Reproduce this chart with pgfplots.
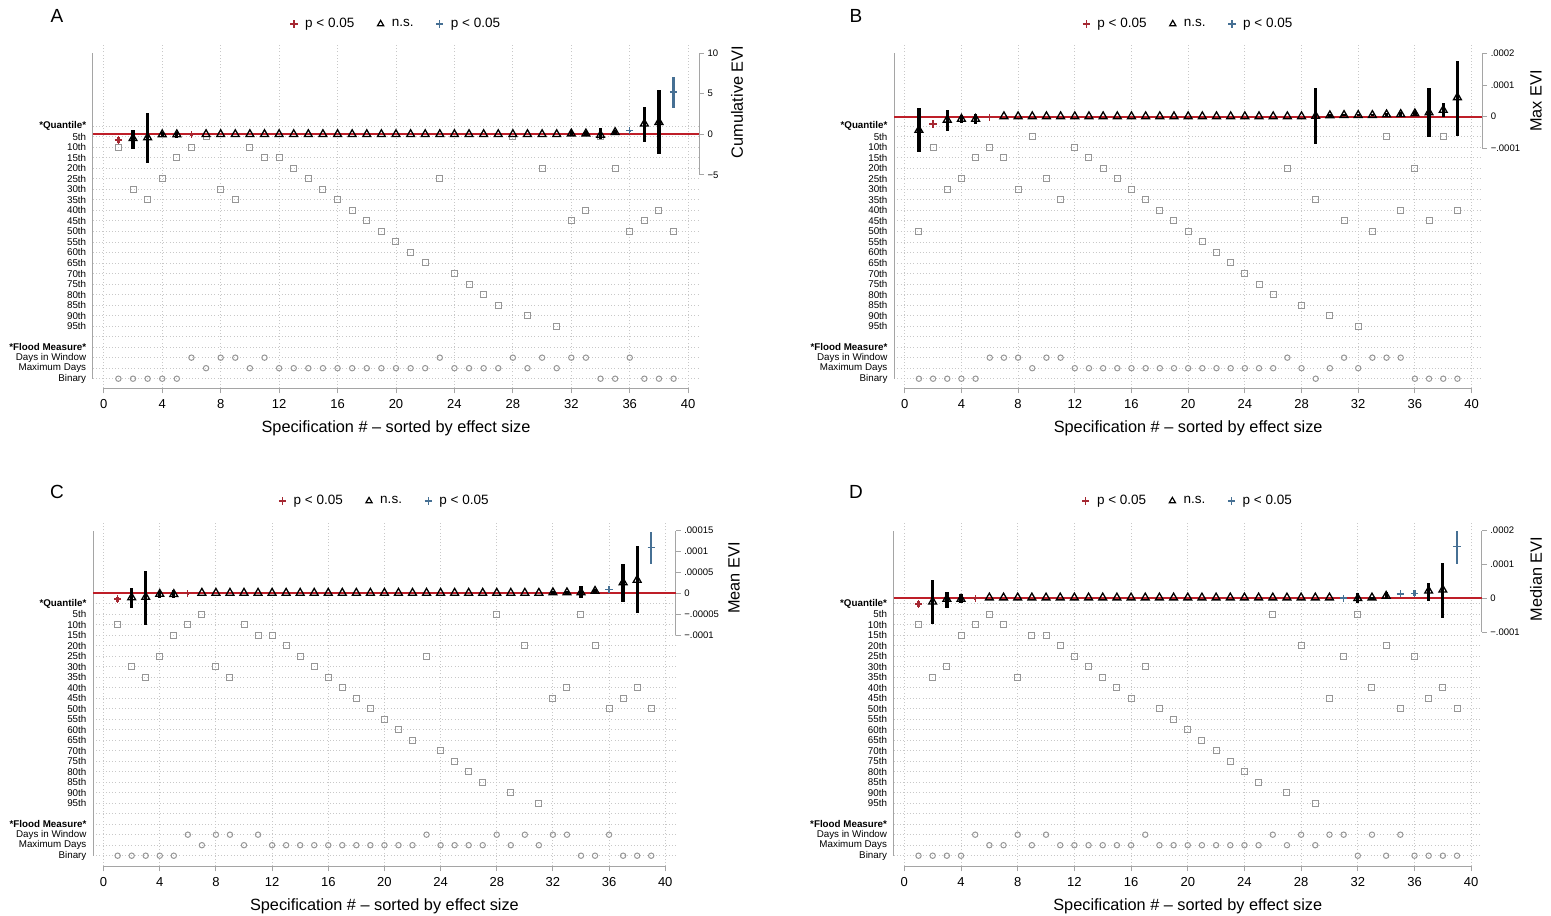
\documentclass[border=0pt]{standalone}
\usepackage{fontspec}
\setmainfont{Liberation Sans}
\usepackage{pgfplots}
\usepackage{pgfplotstable}
\pgfplotsset{compat=1.18}
\definecolor{sred}{RGB}{165,40,50}
\definecolor{zred}{RGB}{190,30,40}
\definecolor{sblue}{RGB}{70,112,148}
\definecolor{sqgray}{RGB}{150,150,150}
\definecolor{axgray}{RGB}{165,165,165}
\definecolor{gridgray}{RGB}{200,200,200}
\newcommand\rowf{\fontsize{9.8}{10}\selectfont}
\newcommand\tickf{\fontsize{13}{13}\selectfont}
\newcommand\rtickf{\fontsize{9.5}{10}\selectfont}
\newcommand\titf{\fontsize{16.3}{17}\selectfont}
\newcommand\legf{\fontsize{13.5}{14}\selectfont}
\newcommand\letf{\fontsize{19}{19}\selectfont}

\pgfplotsset{
  rowax/.style={scale only axis, xmin=-0.75, xmax=40.75, axis line style={draw=none},
    tick align=outside, major tick length=5pt,
    xtick={0,4,...,40}, xtick pos=bottom, ytick={0,...,24}, ytick pos=left,
    yticklabels={Binary, Maximum Days, Days in Window, \textbf{*Flood Measure*}, {}, 95th, 90th, 85th, 80th, 75th, 70th, 65th, 60th, 55th, 50th, 45th, 40th, 35th, 30th, 25th, 20th, 15th, 10th, 5th, \textbf{*Quantile*}},
    ytick style={draw=none}, xtick style={axgray, line width=0.9pt},
    grid=major, major grid style={gridgray, line width=0.9pt, dash pattern=on 0.9pt off 2.3pt},
    xticklabel style={font=\tickf, yshift=-3pt}, yticklabel style={font=\rowf, inner sep=1.5pt},
    xlabel={Specification \# -- sorted by effect size}, xlabel style={font=\titf, yshift=-5pt},
    /pgf/number format/assume math mode=true, clip=false},
  estax/.style={scale only axis, xmin=-0.75, xmax=40.75, axis line style={draw=none},
    tick align=outside, major tick length=5pt,
    xtick=\empty, ytick pos=right, yticklabel pos=right, ytick style={axgray, line width=0.9pt},
    yticklabel style={font=\rtickf}, scaled y ticks=false, clip=false,
    legend columns=3,
    legend style={draw=none, fill=none, at={(0.5,1)}, anchor=center, yshift=20pt, font=\legf,
      /tikz/every even column/.append style={column sep=20pt}}},
  sq/.style={forget plot, only marks, mark=square, mark size=3pt, sqgray, mark options={line width=1pt}},
  ci/.style={forget plot, only marks, mark=o, mark size=2.7pt, sqgray, mark options={line width=1pt}},
  nsplot/.style={forget plot, only marks, mark=triangle, mark size=4.5pt, black, mark options={line width=1.3pt, solid},
    error bars/y dir=both, error bars/y explicit, error bars/error mark=none,
    error bars/error bar style={line width=3.3pt, black, solid}},
  redplot/.style={forget plot, only marks, mark=+, mark size=3.6pt, sred, mark options={line width=1.3pt, solid},
    error bars/y dir=both, error bars/y explicit, error bars/error mark=none,
    error bars/error bar style={line width=2.4pt, sred, solid}},
  blueplot/.style={forget plot, only marks, mark=+, mark size=3.6pt, sblue, mark options={line width=1.3pt, solid},
    error bars/y dir=both, error bars/y explicit, error bars/error mark=none,
    error bars/error bar style={line width=2.4pt, sblue, solid}},
  table/cit/.style={x=s, y=e, y error plus expr=\thisrow{h}-\thisrow{e}, y error minus expr=\thisrow{e}-\thisrow{l}, row sep=\\},
}
\newcommand\stdlegend{%
  \addlegendimage{legend image code/.code={\path (-4pt,-1pt) (9pt,1pt); \draw[sred, mark=+, mark size=3.6pt, mark options={line width=1.2pt, sred}] plot coordinates {(0pt,0pt)};}}
  \addlegendentry{p < 0.05}
  \addlegendimage{legend image code/.code={\path (-4pt,-1pt) (9pt,1pt); \draw[black, mark=triangle, mark size=3.6pt, mark options={line width=1.2pt, black, fill=none}] plot coordinates {(0pt,0pt)};}}
  \addlegendentry{n.s.}
  \addlegendimage{legend image code/.code={\path (-4pt,-1pt) (9pt,1pt); \draw[sblue, mark=+, mark size=3.6pt, mark options={line width=1.2pt, sblue}] plot coordinates {(0pt,0pt)};}}
  \addlegendentry{p < 0.05}}

% indicator tables
\pgfplotstableread[row sep=\\]{s q\\ 1 10\\ 2 30\\ 3 35\\ 4 25\\ 5 15\\ 6 10\\ 7 5\\ 8 30\\ 9 35\\ 10 10\\ 11 15\\ 12 15\\ 13 20\\ 14 25\\ 15 30\\ 16 35\\ 17 40\\ 18 45\\ 19 50\\ 20 55\\ 21 60\\ 22 65\\ 23 25\\ 24 70\\ 25 75\\ 26 80\\ 27 85\\ 28 5\\ 29 90\\ 30 20\\ 31 95\\ 32 45\\ 33 40\\ 34 5\\ 35 20\\ 36 50\\ 37 45\\ 38 40\\ 39 50\\}\qAC
\pgfplotstableread[row sep=\\]{s f\\ 1 0\\ 2 0\\ 3 0\\ 4 0\\ 5 0\\ 6 2\\ 7 1\\ 8 2\\ 9 2\\ 10 1\\ 11 2\\ 12 1\\ 13 1\\ 14 1\\ 15 1\\ 16 1\\ 17 1\\ 18 1\\ 19 1\\ 20 1\\ 21 1\\ 22 1\\ 23 2\\ 24 1\\ 25 1\\ 26 1\\ 27 1\\ 28 2\\ 29 1\\ 30 2\\ 31 1\\ 32 2\\ 33 2\\ 34 0\\ 35 0\\ 36 2\\ 37 0\\ 38 0\\ 39 0\\}\fAC
\pgfplotstableread[row sep=\\]{s q\\ 1 50\\ 2 10\\ 3 30\\ 4 25\\ 5 15\\ 6 10\\ 7 15\\ 8 30\\ 9 5\\ 10 25\\ 11 35\\ 12 10\\ 13 15\\ 14 20\\ 15 25\\ 16 30\\ 17 35\\ 18 40\\ 19 45\\ 20 50\\ 21 55\\ 22 60\\ 23 65\\ 24 70\\ 25 75\\ 26 80\\ 27 20\\ 28 85\\ 29 35\\ 30 90\\ 31 45\\ 32 95\\ 33 50\\ 34 5\\ 35 40\\ 36 20\\ 37 45\\ 38 5\\ 39 40\\}\qB
\pgfplotstableread[row sep=\\]{s f\\ 1 0\\ 2 0\\ 3 0\\ 4 0\\ 5 0\\ 6 2\\ 7 2\\ 8 2\\ 9 1\\ 10 2\\ 11 2\\ 12 1\\ 13 1\\ 14 1\\ 15 1\\ 16 1\\ 17 1\\ 18 1\\ 19 1\\ 20 1\\ 21 1\\ 22 1\\ 23 1\\ 24 1\\ 25 1\\ 26 1\\ 27 2\\ 28 1\\ 29 0\\ 30 1\\ 31 2\\ 32 1\\ 33 2\\ 34 2\\ 35 2\\ 36 0\\ 37 0\\ 38 0\\ 39 0\\}\fB
\pgfplotstableread[row sep=\\]{s q\\ 1 10\\ 2 35\\ 3 30\\ 4 15\\ 5 10\\ 6 5\\ 7 10\\ 8 35\\ 9 15\\ 10 15\\ 11 20\\ 12 25\\ 13 30\\ 14 35\\ 15 40\\ 16 45\\ 17 30\\ 18 50\\ 19 55\\ 20 60\\ 21 65\\ 22 70\\ 23 75\\ 24 80\\ 25 85\\ 26 5\\ 27 90\\ 28 20\\ 29 95\\ 30 45\\ 31 25\\ 32 5\\ 33 40\\ 34 20\\ 35 50\\ 36 25\\ 37 45\\ 38 40\\ 39 50\\}\qD
\pgfplotstableread[row sep=\\]{s f\\ 1 0\\ 2 0\\ 3 0\\ 4 0\\ 5 2\\ 6 1\\ 7 1\\ 8 2\\ 9 1\\ 10 2\\ 11 1\\ 12 1\\ 13 1\\ 14 1\\ 15 1\\ 16 1\\ 17 2\\ 18 1\\ 19 1\\ 20 1\\ 21 1\\ 22 1\\ 23 1\\ 24 1\\ 25 1\\ 26 2\\ 27 1\\ 28 2\\ 29 1\\ 30 2\\ 31 2\\ 32 0\\ 33 2\\ 34 0\\ 35 2\\ 36 0\\ 37 0\\ 38 0\\ 39 0\\}\fD

\begin{document}
\begin{tikzpicture}
\path[use as bounding box] (0pt,0pt) rectangle (1551pt,-916pt);

% ================= PANEL A =================
\begin{axis}[rowax, at={(92.84pt,-388.3pt)}, anchor=south west, width=606.3pt, height=344.3pt, ymin=-0.913, ymax=31.82]
\draw[axgray, line width=0.9pt] (axis cs:0,-0.913) -- (axis cs:40,-0.913);
\draw[axgray, line width=0.9pt] (axis cs:-0.75,0) -- (axis cs:-0.75,30.93);
\addplot[sq] table[x=s, y expr=24-\thisrow{q}/5] {\qAC};
\addplot[ci] table[x=s, y=f] {\fAC};
\end{axis}
\begin{axis}[estax, at={(92.84pt,-388.3pt)}, anchor=south west, width=606.3pt, height=344.3pt, ymin=-31.32, ymax=11.13,
  ytick={-5,0,5,10}, yticklabels={−5,0,5,10}]
\stdlegend
\draw[axgray, line width=0.9pt] (axis cs:40.75,-5) -- (axis cs:40.75,10);
\draw[zred, line width=1.7pt] (axis cs:-0.75,0) -- (axis cs:40.75,0);
\addplot[nsplot] table[cit] {s e l h\\ 2 -0.5 -1.8 0.55\\ 3 -0.4 -3.6 2.6\\ 4 -0.02 -0.35 0.3\\ 5 -0.02 -0.4 0.3\\
7 0 0 0\\ 8 0 0 0\\ 9 0 0 0\\ 10 0 0 0\\ 11 0 0 0\\ 12 0 0 0\\ 13 0 0 0\\ 14 0 0 0\\ 15 0 0 0\\ 16 0 0 0\\ 17 0 0 0\\ 18 0 0 0\\ 19 0 0 0\\ 20 0 0 0\\ 21 0 0 0\\ 22 0 0 0\\ 23 0 0 0\\ 24 0 0 0\\ 25 0 0 0\\ 26 0 0 0\\ 27 0 0 0\\ 28 0 0 0\\ 29 0 0 0\\ 30 0 0 0\\ 31 0 0 0\\
32 0.08 -0.2 0.35\\ 33 0.08 -0.2 0.35\\ 34 -0.1 -0.6 0.75\\ 35 0.25 0.0 0.5\\ 37 1.3 -1.0 3.4\\ 38 1.5 -2.4 5.4\\};
\addplot[redplot] table[cit] {s e l h\\ 1 -0.7 -1.1 -0.35\\ 6 -0.04 -0.1 -0.01\\};
\addplot[blueplot] table[cit] {s e l h\\ 36 0.45 0.35 0.55\\ 39 5.2 3.3 7.1\\};
\end{axis}

% ================= PANEL B =================
\begin{axis}[rowax, at={(894.1pt,-388.3pt)}, anchor=south west, width=588.1pt, height=344.3pt, ymin=-0.913, ymax=31.82]
\draw[axgray, line width=0.9pt] (axis cs:0,-0.913) -- (axis cs:40,-0.913);
\draw[axgray, line width=0.9pt] (axis cs:-0.75,0) -- (axis cs:-0.75,30.93);
\addplot[sq] table[x=s, y expr=24-\thisrow{q}/5] {\qB};
\addplot[ci] table[x=s, y=f] {\fB};
\end{axis}
\begin{axis}[estax, at={(894.1pt,-388.3pt)}, anchor=south west, width=588.1pt, height=344.3pt, ymin=-0.0008568, ymax=0.0002293,
  ytick={-0.0001,0,0.0001,0.0002}, yticklabels={−.0001,0,.0001,.0002}]
\stdlegend
\draw[axgray, line width=0.9pt] (axis cs:40.75,-0.0001) -- (axis cs:40.75,0.0002);
\draw[zred, line width=1.7pt] (axis cs:-0.75,0) -- (axis cs:40.75,0);
\addplot[nsplot] table[cit] {s e l h\\ 1 -0.000042 -0.000110 0.000026\\ 3 -0.000010 -0.000044 0.000021\\ 4 -0.000007 -0.000021 0.000005\\ 5 -0.000007 -0.000023 0.000008\\
7 0.000001 0.000001 0.000001\\ 8 0.000001 0.000001 0.000001\\ 9 0.000001 0.000001 0.000001\\ 10 0.000001 0.000001 0.000001\\ 11 0.000001 0.000001 0.000001\\ 12 0.000001 0.000001 0.000001\\ 13 0.000001 0.000001 0.000001\\ 14 0.000001 0.000001 0.000001\\ 15 0.000001 0.000001 0.000001\\ 16 0.000001 0.000001 0.000001\\ 17 0.000001 0.000001 0.000001\\ 18 0.000001 0.000001 0.000001\\ 19 0.000001 0.000001 0.000001\\ 20 0.000001 0.000001 0.000001\\ 21 0.000001 0.000001 0.000001\\ 22 0.000001 0.000001 0.000001\\ 23 0.000001 0.000001 0.000001\\ 24 0.000001 0.000001 0.000001\\ 25 0.000001 0.000001 0.000001\\ 26 0.000001 0.000001 0.000001\\ 27 0.000001 0.000001 0.000001\\ 28 0.000001 0.000001 0.000001\\
29 0.000002 -0.000086 0.000089\\ 30 0.000004 0.000000 0.000008\\ 31 0.000005 0.000001 0.000009\\ 32 0.000005 0.000002 0.000008\\ 33 0.000005 0.000002 0.000008\\ 34 0.000007 0.000002 0.000012\\ 35 0.000008 0.000002 0.000014\\ 36 0.000010 0.000003 0.000017\\ 37 0.000013 -0.000065 0.000092\\ 38 0.000021 -0.000002 0.000042\\ 39 0.000061 -0.000060 0.000175\\};
\addplot[redplot] table[cit] {s e l h\\ 2 -0.000023 -0.000037 -0.000010\\ 6 -0.000002 -0.000004 -0.0000005\\};
\end{axis}

% ================= PANEL C =================
\begin{axis}[rowax, at={(93.07pt,-866.3pt)}, anchor=south west, width=582.7pt, height=345.3pt, ymin=-1.009, ymax=31.85]
\draw[axgray, line width=0.9pt] (axis cs:0,-1.009) -- (axis cs:40,-1.009);
\draw[axgray, line width=0.9pt] (axis cs:-0.75,0) -- (axis cs:-0.75,30.92);
\addplot[sq] table[x=s, y expr=24-\thisrow{q}/5] {\qAC};
\addplot[ci] table[x=s, y=f] {\fAC};
\end{axis}
\begin{axis}[estax, at={(93.07pt,-866.3pt)}, anchor=south west, width=582.7pt, height=345.3pt, ymin=-0.0006531, ymax=0.0001730,
  ytick={-0.0001,-0.00005,0,0.00005,0.0001,0.00015}, yticklabels={−.0001,−.00005,0,.00005,.0001,.00015}]
\stdlegend
\draw[axgray, line width=0.9pt] (axis cs:40.75,-0.0001) -- (axis cs:40.75,0.00015);
\draw[zred, line width=1.7pt] (axis cs:-0.75,0) -- (axis cs:40.75,0);
\addplot[nsplot] table[cit] {s e l h\\ 2 -0.000010 -0.000034 0.000012\\ 3 -0.000009 -0.000075 0.000053\\ 4 -0.0000015 -0.000010 0.000006\\ 5 -0.000002 -0.000010 0.000008\\
7 0.000001 0.000001 0.000001\\ 8 0.000001 0.000001 0.000001\\ 9 0.000001 0.000001 0.000001\\ 10 0.000001 0.000001 0.000001\\ 11 0.000001 0.000001 0.000001\\ 12 0.000001 0.000001 0.000001\\ 13 0.000001 0.000001 0.000001\\ 14 0.000001 0.000001 0.000001\\ 15 0.000001 0.000001 0.000001\\ 16 0.000001 0.000001 0.000001\\ 17 0.000001 0.000001 0.000001\\ 18 0.000001 0.000001 0.000001\\ 19 0.000001 0.000001 0.000001\\ 20 0.000001 0.000001 0.000001\\ 21 0.000001 0.000001 0.000001\\ 22 0.000001 0.000001 0.000001\\ 23 0.000001 0.000001 0.000001\\ 24 0.000001 0.000001 0.000001\\ 25 0.000001 0.000001 0.000001\\ 26 0.000001 0.000001 0.000001\\ 27 0.000001 0.000001 0.000001\\ 28 0.000001 0.000001 0.000001\\ 29 0.000001 0.000001 0.000001\\ 30 0.000001 0.000001 0.000001\\ 31 0.000001 0.000001 0.000001\\
32 0.000002 -0.000001 0.000005\\ 33 0.000002 -0.000002 0.000006\\ 34 0.000002 -0.000010 0.000017\\ 35 0.0000055 0.000001 0.000010\\ 37 0.000026 -0.000021 0.000071\\ 38 0.000032 -0.000048 0.000113\\};
\addplot[redplot] table[cit] {s e l h\\ 1 -0.0000135 -0.000021 -0.000008\\ 6 -0.000001 -0.000002 -0.0000003\\};
\addplot[blueplot] table[cit] {s e l h\\ 36 0.0000095 0.000007 0.000012\\ 39 0.000110 0.000070 0.000147\\};
\end{axis}

% ================= PANEL D =================
\begin{axis}[rowax, at={(893.7pt,-866.3pt)}, anchor=south west, width=588.1pt, height=345.3pt, ymin=-1.009, ymax=31.85]
\draw[axgray, line width=0.9pt] (axis cs:0,-1.009) -- (axis cs:40,-1.009);
\draw[axgray, line width=0.9pt] (axis cs:-0.75,0) -- (axis cs:-0.75,30.92);
\addplot[sq] table[x=s, y expr=24-\thisrow{q}/5] {\qD};
\addplot[ci] table[x=s, y=f] {\fD};
\end{axis}
\begin{axis}[estax, at={(893.7pt,-866.3pt)}, anchor=south west, width=588.1pt, height=345.3pt, ymin=-0.0007906, ymax=0.0002280,
  ytick={-0.0001,0,0.0001,0.0002}, yticklabels={−.0001,0,.0001,.0002}]
\stdlegend
\draw[axgray, line width=0.9pt] (axis cs:40.75,-0.0001) -- (axis cs:40.75,0.0002);
\draw[zred, line width=1.7pt] (axis cs:-0.75,0) -- (axis cs:40.75,0);
\addplot[nsplot] table[cit] {s e l h\\ 2 -0.000010 -0.000076 0.000054\\ 3 -0.000002 -0.000030 0.000020\\ 4 -0.000002 -0.000015 0.000013\\
6 0.000002 0.000002 0.000002\\ 7 0.000002 0.000002 0.000002\\ 8 0.000002 0.000002 0.000002\\ 9 0.000002 0.000002 0.000002\\ 10 0.000002 0.000002 0.000002\\ 11 0.000002 0.000002 0.000002\\ 12 0.000002 0.000002 0.000002\\ 13 0.000002 0.000002 0.000002\\ 14 0.000002 0.000002 0.000002\\ 15 0.000002 0.000002 0.000002\\ 16 0.000002 0.000002 0.000002\\ 17 0.000002 0.000002 0.000002\\ 18 0.000002 0.000002 0.000002\\ 19 0.000002 0.000002 0.000002\\ 20 0.000002 0.000002 0.000002\\ 21 0.000002 0.000002 0.000002\\ 22 0.000002 0.000002 0.000002\\ 23 0.000002 0.000002 0.000002\\ 24 0.000002 0.000002 0.000002\\ 25 0.000002 0.000002 0.000002\\ 26 0.000002 0.000002 0.000002\\ 27 0.000002 0.000002 0.000002\\ 28 0.000002 0.000002 0.000002\\ 29 0.000002 0.000002 0.000002\\ 30 0.000002 0.000002 0.000002\\
32 0.000000 -0.000015 0.000016\\ 33 0.000002 -0.000001 0.000005\\ 34 0.000007 -0.000002 0.000018\\ 37 0.000022 -0.000008 0.000044\\ 38 0.000025 -0.000057 0.000103\\};
\addplot[redplot] table[cit] {s e l h\\ 1 -0.000017 -0.000026 -0.000008\\ 5 -0.000001 -0.000002 -0.0000003\\};
\addplot[blueplot] table[cit] {s e l h\\ 31 0.0000005 0.0000001 0.000001\\ 35 0.000013 0.000010 0.000016\\ 36 0.000015 0.000008 0.000024\\ 39 0.000153 0.000101 0.000199\\};
\end{axis}

% panel letters and right-axis titles
\node[font=\letf] at (57pt,-16pt) {A};
\node[font=\letf] at (856pt,-16pt) {B};
\node[font=\letf] at (57pt,-492pt) {C};
\node[font=\letf] at (856pt,-492pt) {D};
\node[font=\titf, rotate=90] at (737pt,-102pt) {Cumulative EVI};
\node[font=\titf, rotate=90] at (1536pt,-101pt) {Max EVI};
\node[font=\titf, rotate=90] at (734pt,-578pt) {Mean EVI};
\node[font=\titf, rotate=90] at (1536pt,-579pt) {Median EVI};
\end{tikzpicture}
\end{document}
